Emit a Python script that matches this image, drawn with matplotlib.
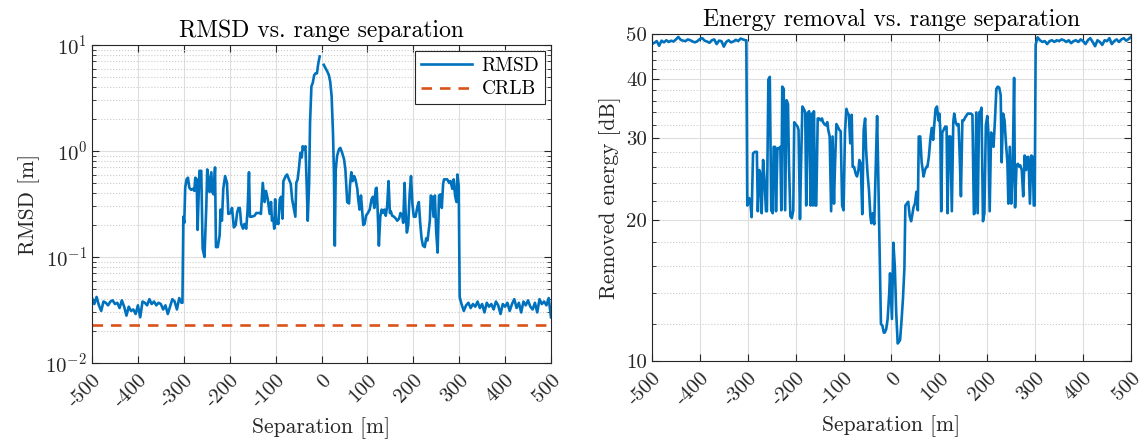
import numpy as np
import matplotlib.pyplot as plt
from matplotlib.ticker import FixedLocator, NullFormatter, LogLocator

plt.rcParams['font.family'] = 'cmr10'
plt.rcParams['mathtext.fontset'] = 'cm'
plt.rcParams['axes.unicode_minus'] = False
plt.rcParams['axes.formatter.use_mathtext'] = True

# flat parts on both sides (5 m step)
sep_left = list(range(-500, -304, 5))
sep_right = list(range(305, 501, 5))

rmsd_left = [0.041, 0.036, 0.042, 0.035, 0.031, 0.038, 0.037, 0.035, 0.038, 0.039,
             0.036, 0.037, 0.033, 0.039, 0.034, 0.028, 0.034, 0.031, 0.032, 0.029,
             0.035, 0.027, 0.038, 0.037, 0.035, 0.040, 0.036, 0.038, 0.035, 0.037,
             0.036, 0.032, 0.035, 0.029, 0.034, 0.040, 0.038, 0.032, 0.041, 0.037]
rmsd_right = [0.036, 0.031, 0.035, 0.037, 0.033, 0.036, 0.034, 0.038, 0.033, 0.036,
              0.030, 0.037, 0.034, 0.036, 0.032, 0.038, 0.035, 0.029, 0.036, 0.034,
              0.037, 0.031, 0.036, 0.040, 0.033, 0.037, 0.030, 0.038, 0.035, 0.039,
              0.034, 0.032, 0.037, 0.030, 0.040, 0.036, 0.038, 0.035, 0.041, 0.027]

# middle part of RMSD curve
sep_mid_r = [-303, -301, -299, -297, -294, -291, -288, -284, -280, -277, -275, -272, -270,
             -266, -262, -259, -255, -251, -249, -246, -244, -240, -238, -235, -232, -230,
             -226, -222, -220, -217, -214, -210, -206, -203, -198, -195, -191, -187, -184,
             -181, -178, -175, -171, -168, -164, -161, -158, -156, -152, -146, -142, -135,
             -132, -128, -124, -121, -117, -113, -110, -108, -105, -103, -101, -99, -97,
             -94, -91, -88, -85, -83, -78, -75, -71, -67, -64, -60, -57, -55, -52, -49,
             -46, -43, -41, -38, -35, -32, -30, -27, -25, -22, -19, -16, -13, -10, -7, -4,
             0, 5, 9, 12, 16, 19, 22, 25, 27, 29, 31, 34, 38, 41, 45, 49, 52, 56, 60, 62,
             65, 68, 71, 74, 78, 80, 83, 86, 89, 91, 94, 97, 101, 105, 109, 112, 115, 118,
             120, 122, 125, 128, 131, 134, 137, 140, 143, 146, 149, 151, 154, 158, 162, 165,
             169, 172, 176, 178, 181, 183, 186, 189, 192, 195, 198, 201, 205, 209, 212, 215,
             218, 221, 225, 228, 231, 236, 238, 241, 244, 247, 250, 253, 256, 259, 262, 265,
             267, 270, 274, 278, 281, 285, 288, 291, 294, 296, 299, 301]
rmsd_mid = [0.037, 0.24, 0.21, 0.45, 0.54, 0.56, 0.45, 0.43, 0.44, 0.42, 0.56, 0.54, 0.18,
            0.65, 0.65, 0.12, 0.10, 0.30, 0.67, 0.54, 0.41, 0.63, 0.41, 0.39, 0.70, 0.124,
            0.124, 0.16, 0.28, 0.22, 0.44, 0.58, 0.50, 0.255, 0.26, 0.29, 0.19, 0.20, 0.26,
            0.29, 0.29, 0.205, 0.185, 0.205, 0.185, 0.28, 0.63, 0.24, 0.24, 0.245, 0.26, 0.26,
            0.255, 0.50, 0.33, 0.42, 0.35, 0.255, 0.33, 0.22, 0.23, 0.185, 0.35, 0.205, 0.22,
            0.205, 0.35, 0.37, 0.23, 0.52, 0.58, 0.60, 0.54, 0.49, 0.35, 0.28, 0.24, 0.50,
            0.54, 0.70, 0.96, 0.87, 1.11, 1.04, 1.11, 0.44, 0.22, 0.50, 1.84, 4.07, 4.4, 5.2,
            5.4, 5.4, 6.7, 7.8, np.nan, 6.5, 6.0, 5.7, 5.2, 4.5, 3.3, 1.49, 0.63, 0.128, 0.67,
            0.90, 1.04, 1.07, 0.96, 0.84, 0.67, 0.33, 0.32, 0.47, 0.63, 0.52, 0.58, 0.54, 0.44,
            0.35, 0.28, 0.38, 0.26, 0.20, 0.205, 0.245, 0.26, 0.28, 0.35, 0.37, 0.29, 0.44,
            0.45, 0.30, 0.128, 0.24, 0.28, 0.26, 0.28, 0.245, 0.30, 0.52, 0.26, 0.27, 0.245,
            0.24, 0.23, 0.22, 0.23, 0.26, 0.245, 0.21, 0.50, 0.28, 0.17, 0.20, 0.39, 0.58,
            0.32, 0.24, 0.24, 0.30, 0.33, 0.21, 0.15, 0.128, 0.124, 0.15, 0.143, 0.22, 0.38,
            0.37, 0.24, 0.38, 0.17, 0.11, 0.38, 0.39, 0.29, 0.49, 0.54, 0.54, 0.54, 0.50,
            0.52, 0.44, 0.54, 0.38, 0.33, 0.60, 0.47, 0.042]
crlb_value = 0.023

# energy removal curve
energy_left = [47.6, 47.9, 48.3, 47.2, 48.4, 48.0, 48.5, 48.1, 48.4, 48.2, 48.7, 49.3, 48.6,
               48.4, 48.3, 48.7, 48.5, 48.2, 48.0, 48.3, 48.8, 49.0, 48.4, 48.2, 47.9, 48.5,
               48.7, 47.6, 48.4, 48.3, 47.0, 48.1, 48.5, 48.0, 48.2, 48.6, 48.3, 48.9, 48.7,
               48.5]
energy_right = [49.2, 48.5, 48.1, 48.3, 47.6, 48.3, 48.5, 48.1, 48.5, 48.3, 48.7, 48.5, 48.1,
                48.5, 47.8, 48.3, 48.5, 48.1, 48.7, 48.3, 47.6, 48.5, 49.0, 48.1, 47.1, 48.5,
                48.1, 47.4, 48.5, 48.3, 49.0, 47.6, 48.3, 48.7, 48.1, 48.7, 49.0, 48.4, 48.8,
                49.3]
sep_mid_e = [-303, -301, -297, -294, -292, -289, -285, -281, -279, -276, -274, -271, -268,
             -265, -262, -260, -257, -254, -251, -248, -246, -243, -241, -238, -235, -232,
             -230, -228, -225, -222, -219, -216, -214, -211, -208, -205, -203, -200, -196,
             -194, -191, -189, -186, -183, -180, -178, -175, -172, -169, -167, -164, -162,
             -159, -157, -154, -151, -148, -145, -143, -140, -137, -134, -132, -129, -126,
             -123, -120, -118, -115, -112, -109, -106, -103, -100, -97, -94, -92, -89, -86,
             -83, -81, -78, -75, -72, -69, -67, -64, -61, -58, -55, -53, -50, -47, -44, -42,
             -39, -36, -33, -30, -28, -25, -22, -19, -16, -14, -11, -8, -5, -3, 1, 4, 7, 10,
             13, 16, 18, 21, 24, 27, 29, 32, 35, 38, 41, 43, 46, 49, 52, 55, 57, 60, 63, 67,
             70, 73, 75, 78, 81, 84, 87, 89, 92, 95, 98, 100, 102, 104, 106, 109, 112, 115,
             117, 120, 123, 126, 129, 131, 134, 137, 140, 142, 145, 148, 151, 154, 156, 159,
             163, 166, 169, 172, 174, 177, 180, 183, 186, 188, 191, 194, 197, 200, 202, 205,
             208, 211, 213, 216, 219, 222, 225, 228, 230, 233, 236, 239, 242, 244, 247, 250,
             253, 256, 258, 261, 264, 267, 269, 272, 275, 278, 281, 283, 286, 289, 292, 295,
             297, 299, 301]
energy_mid = [48.5, 21.5, 22.3, 21.5, 20.3, 27.8, 28.0, 28.0, 20.9, 25.6, 25.2, 20.7, 26.9,
              24.4, 20.9, 20.9, 40.0, 40.5, 21.0, 20.7, 28.7, 28.7, 20.9, 28.5, 28.5, 28.7,
              21.0, 38.6, 38.2, 21.0, 36.1, 35.4, 26.4, 20.4, 20.2, 21.0, 32.4, 32.1, 31.7,
              31.2, 20.1, 25.6, 35.0, 34.6, 34.0, 21.5, 33.8, 34.2, 21.5, 33.8, 21.5, 34.2,
              21.5, 21.5, 33.0, 33.0, 32.7, 33.0, 32.4, 32.1, 31.9, 32.4, 31.2, 30.2, 20.9,
              30.2, 21.7, 26.0, 32.1, 31.7, 31.2, 31.0, 21.5, 21.0, 31.0, 34.6, 34.0, 33.6,
              29.2, 33.6, 26.0, 26.0, 25.2, 24.8, 25.6, 26.9, 26.4, 20.6, 31.2, 33.0, 28.3,
              25.2, 23.2, 20.4, 19.7, 20.7, 19.6, 25.6, 33.4, 26.4, 17.7, 12.0, 11.9, 11.5,
              11.5, 11.7, 12.3, 13.8, 15.4, 12.3, 17.9, 15.9, 12.6, 10.9, 11.0, 11.1, 12.2,
              13.6, 15.8, 21.5, 21.7, 21.9, 20.4, 19.9, 20.4, 21.3, 21.7, 23.0, 21.0, 30.2,
              30.2, 26.6, 24.8, 25.6, 26.0, 26.0, 27.3, 29.7, 31.5, 29.7, 31.7, 34.6, 35.0,
              32.7, 33.8, 31.0, 20.9, 30.8, 31.2, 31.7, 31.7, 20.7, 30.2, 30.2, 20.9, 32.4,
              33.8, 32.4, 31.9, 32.1, 28.3, 22.5, 32.7, 32.7, 33.2, 33.4, 33.8, 33.8, 33.8,
              33.6, 20.6, 20.7, 34.0, 20.7, 34.0, 34.2, 34.8, 19.9, 20.7, 31.9, 33.4, 31.2,
              20.9, 30.8, 30.2, 28.7, 32.7, 38.2, 38.6, 38.4, 37.0, 26.6, 33.8, 32.7, 29.2,
              26.6, 21.7, 28.7, 21.7, 25.6, 40.3, 21.3, 26.2, 26.4, 26.0, 26.2, 25.6, 22.5,
              27.5, 25.6, 27.3, 27.3, 21.7, 27.5, 27.3, 21.5, 21.5, 47.5]

sep_r = sep_left + sep_mid_r + sep_right
rmsd = rmsd_left + rmsd_mid + rmsd_right
sep_e = sep_left + sep_mid_e + sep_right
energy = energy_left + energy_mid + energy_right

xticks = list(range(-500, 501, 100))
blue = '#0072BD'
orange = '#D95319'
axcol = '#262626'

fig = plt.figure(figsize=(11.46, 4.46), dpi=100)
ax1 = fig.add_axes([0.0803, 0.1861, 0.4005, 0.713])
ax2 = fig.add_axes([0.5689, 0.1906, 0.418, 0.733])


def style(ax):
    ax.set_xlim(-500, 500)
    ax.set_xticks(xticks)
    ax.set_xticklabels([str(t) for t in xticks], rotation=45, ha='right',
                       rotation_mode='anchor')
    ax.tick_params(which='both', direction='in', top=True, right=True, colors=axcol,
                   labelsize=15)
    ax.tick_params(which='major', length=5)
    ax.tick_params(which='minor', length=3)
    ax.tick_params(axis='x', pad=6)
    for s in ax.spines.values():
        s.set_color(axcol)
        s.set_linewidth(0.8)
    ax.grid(True, which='major', color='#dedede', linewidth=0.8)
    ax.grid(True, which='minor', axis='y', color='#cccccc', linestyle=':', linewidth=0.8)
    ax.set_axisbelow(True)
    ax.set_xlabel('Separation [m]', fontsize=15.5, color=axcol)


# left: RMSD
ax1.plot(sep_r, rmsd, color=blue, linewidth=1.9, label='RMSD')
ax1.plot([-500, 500], [crlb_value, crlb_value], color=orange, linewidth=1.9,
         linestyle=(0, (4, 3)), label='CRLB')
ax1.set_yscale('log')
ax1.set_ylim(1e-2, 1e1)
ax1.yaxis.set_minor_locator(LogLocator(base=10, subs=np.arange(2, 10)))
ax1.yaxis.set_minor_formatter(NullFormatter())
style(ax1)
ax1.set_ylabel('RMSD [m]', fontsize=15.5, color=axcol)
ax1.set_title('RMSD vs. range separation', fontsize=17, color='black')
leg = ax1.legend(loc='upper right', fontsize=14, fancybox=False, framealpha=1,
                 edgecolor=axcol, borderaxespad=0.3, handlelength=2.6,
                 borderpad=0.3, labelspacing=0.3, handletextpad=0.5)
leg.get_frame().set_linewidth(0.8)

# right: energy removal
ax2.plot(sep_e, energy, color=blue, linewidth=1.9)
ax2.set_yscale('log')
ax2.set_ylim(10, 50)
ax2.yaxis.set_major_locator(FixedLocator([10, 20, 30, 40, 50]))
ax2.set_yticklabels(['10', '20', '30', '40', '50'])
ax2.yaxis.set_minor_locator(FixedLocator([v for v in range(12, 50, 2) if v % 10 != 0]))
ax2.yaxis.set_minor_formatter(NullFormatter())
style(ax2)
ax2.set_ylabel('Removed energy [dB]', fontsize=15.5, color=axcol)
ax2.set_title('Energy removal vs. range separation', fontsize=17, color='black')

fig.savefig('out.png', dpi=100)
